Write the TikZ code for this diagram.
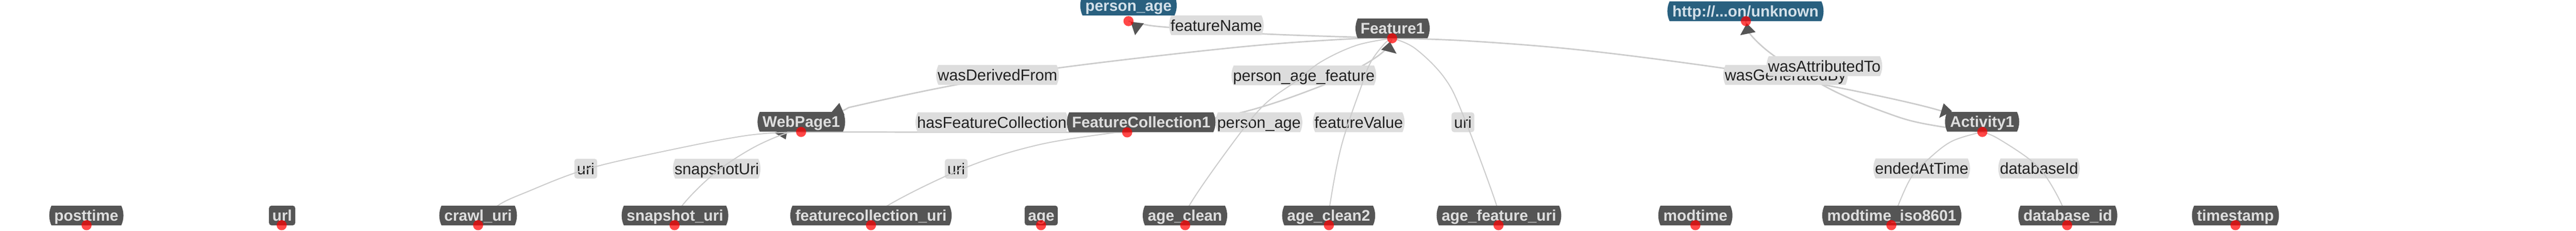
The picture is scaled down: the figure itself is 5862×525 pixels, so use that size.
\documentclass[tikz,border=0pt]{standalone}
\usepackage{fontspec}
\setmainfont{Liberation Sans}
\usetikzlibrary{shapes.misc}
\definecolor{clsfill}{HTML}{555555}
\definecolor{clstext}{HTML}{DEDEDE}
\definecolor{entfill}{HTML}{29607F}
\definecolor{enttext}{HTML}{D3E0E9}
\definecolor{lblfill}{HTML}{DDDDDD}
\definecolor{lbltext}{HTML}{222222}
\definecolor{edgecol}{HTML}{CCCCCC}
\definecolor{dotred}{HTML}{FF0000}
\pgfdeclarelayer{eobj}
\pgfdeclarelayer{elbl}
\pgfdeclarelayer{edat}
\pgfdeclarelayer{front}
\pgfsetlayers{eobj,elbl,edat,main,front}
\tikzset{
  clsnode/.style={rounded rectangle, rounded rectangle arc length=50, fill=clsfill, text=clstext,
    font=\fontsize{17.5}{20}\selectfont\bfseries, minimum height=22.5pt, inner xsep=5pt, inner ysep=0pt,
    outer sep=0pt, text height=12.5pt, text depth=0pt},
  narrowcls/.style={clsnode, shape=rectangle, rounded corners=3pt, inner xsep=3.75pt},
  entnode/.style={clsnode, fill=entfill, text=enttext},
  edgelbl/.style={rounded rectangle, rounded rectangle arc length=50, fill=lblfill, text=lbltext,
    font=\fontsize{18}{20}\selectfont, minimum height=22.5pt, inner xsep=1pt, inner ysep=0pt,
    outer sep=0pt, text height=13pt, text depth=0pt},
  narrowlbl/.style={edgelbl, shape=rectangle, rounded corners=3pt, inner xsep=3pt},
  rdot/.style={circle, fill=dotred, fill opacity=0.72, draw=none, inner sep=0pt, minimum size=11.5pt},
  objedge/.style={draw=edgecol, line width=1.6pt},
  datedge/.style={draw=edgecol, line width=1.2pt},
  arrowhd/.style={fill=clsfill}
}
\begin{document}
\begin{tikzpicture}[x=0.5pt,y=-0.5pt]
\useasboundingbox (0,0) rectangle (5862,525);
\clip (0,0) rectangle (5862,525);
% ---------- class / entity nodes ----------
\node[entnode] (pa) at (2568,12.5) {person\_age};
\node[entnode] (ht) at (3972,25.5) {http://...on/unknown};
\node[clsnode] (f1) at (3169,64.5) {Feature1};
\node[clsnode] (wp) at (1823.5,277) {WebPage1};
\node[clsnode] (fc) at (2597,278) {FeatureCollection1};
\node[clsnode] (ac) at (4510.5,277) {Activity1};
% ---------- column nodes ----------
\node[clsnode] (c1) at (196.5,490) {posttime};
\node[narrowcls] (c2) at (642,490) {url};
\node[clsnode] (c3) at (1088,490) {crawl\_uri};
\node[clsnode] (c4) at (1536,490) {snapshot\_uri};
\node[clsnode] (c5) at (1982,490) {featurecollection\_uri};
\node[narrowcls] (c6) at (2369.5,490) {age};
\node[clsnode] (c7) at (2696.5,490) {age\_clean};
\node[clsnode] (c8) at (3023.5,490) {age\_clean2};
\node[clsnode] (c9) at (3411,490) {age\_feature\_uri};
\node[clsnode] (c10) at (3858,490) {modtime};
\node[clsnode] (c11) at (4305,490) {modtime\_iso8601};
\node[clsnode] (c12) at (4705.5,490) {database\_id};
\node[clsnode] (c13) at (5087,490) {timestamp};
% ---------- red anchor dots ----------
\begin{pgfonlayer}{front}
\node[rdot] (pad) at (2568,48) {};
\node[rdot] (htd) at (3973,48) {};
\node[rdot] (f1d) at (3168,87) {};
\node[rdot] (wpd) at (1823,300) {};
\node[rdot] (fcd) at (2565,301) {};
\node[rdot] (acd) at (4511,300) {};
\node[rdot] (d1) at (197,512) {};
\node[rdot] (d2) at (641,512) {};
\node[rdot] (d3) at (1088,512) {};
\node[rdot] (d4) at (1535,512) {};
\node[rdot] (d5) at (1982,512) {};
\node[rdot] (d6) at (2369,512) {};
\node[rdot] (d7) at (2697,512) {};
\node[rdot] (d8) at (3024,512) {};
\node[rdot] (d9) at (3410,512) {};
\node[rdot] (d10) at (3858,512) {};
\node[rdot] (d11) at (4304,512) {};
\node[rdot] (d12) at (4704,512) {};
\node[rdot] (d13) at (5087,512) {};
\end{pgfonlayer}
% ---------- object property edges ----------
\begin{pgfonlayer}{eobj}
\draw[objedge] plot[smooth, tension=0.6] coordinates {(f1d.center) (2873,77) (2657,62) (2600,55) (pad.center)};
\draw[objedge] plot[smooth, tension=0.6] coordinates {(f1d.center) (3080,88) (2820,107) (2412,154) (2175,193) (1960,238) (1917,252) (wpd.center)};
\draw[objedge] (wpd.center) -- (fcd.center);
\draw[objedge] plot[smooth, tension=0.6] coordinates {(fcd.center) (2820,257) (3013,193) (3103,148) (3153,113) (f1d.center)};
\draw[objedge] plot[smooth, tension=0.6] coordinates {(f1d.center) (3340,93) (3600,114) (3921,155) (4157,194) (4417,252) (acd.center)};
\draw[objedge] plot[smooth, tension=0.6] coordinates {(acd.center) (4430,290) (4350,275) (4283,253) (4217,227) (4147,193) (4040,129) (3983,78) (htd.center)};
% arrow heads
\fill[arrowhd] (1910,234) -- (1888,260) -- (1922,262) -- cycle;
\fill[arrowhd] (1762,302) -- (1793,289) -- (1788,317) -- cycle;
\fill[arrowhd] (2573,50) -- (2603,53) -- (2583,80) -- cycle;
\fill[arrowhd] (3163,95) -- (3143,113) -- (3178,122) -- cycle;
\fill[arrowhd] (3975,53) -- (3960,80) -- (3995,73) -- cycle;
\fill[arrowhd] (4423,235) -- (4413,268) -- (4442,253) -- cycle;
\end{pgfonlayer}
% ---------- edge labels ----------
\begin{pgfonlayer}{elbl}
\node[edgelbl] (l1) at (2270,170.5) {wasDerivedFrom};
\node[edgelbl] (l2) at (2257,278) {hasFeatureCollection};
\node[narrowlbl] (l3) at (1333,383.5) {uri};
\node[edgelbl] (l4) at (1631,383.5) {snapshotUri};
\node[narrowlbl] (l5) at (2176,384) {uri};
\node[edgelbl] (l6) at (2768,57.5) {featureName};
\node[edgelbl] (l7) at (2967,171.5) {person\_age\_feature};
\node[edgelbl] (l8) at (2865,278) {person\_age};
\node[edgelbl] (l9) at (3092,278) {featureValue};
\node[narrowlbl] (l10) at (3329,278) {uri};
\node[edgelbl] (l11) at (4063,170.5) {wasGeneratedBy};
\node[edgelbl] (l12) at (4151.5,150.5) {wasAttributedTo};
\node[edgelbl] (l13) at (4373,383) {endedAtTime};
\node[edgelbl] (l14) at (4640,383) {databaseId};
\end{pgfonlayer}
% ---------- data property edges ----------
\begin{pgfonlayer}{edat}
\draw[datedge] plot[smooth, tension=0.6] coordinates {(wpd.center) (1700,308) (1506,345) (1334,385) (1200,436) (1132,468) (d3.center)};
\draw[datedge] plot[smooth, tension=0.6] coordinates {(wpd.center) (1789,303) (1710,338) (1625,395) (1552,468) (d4.center)};
\draw[datedge] plot[smooth, tension=0.6] coordinates {(fcd.center) (2533,302) (2360,330) (2195,382) (2019,468) (d5.center)};
\draw[datedge] plot[smooth, tension=0.6] coordinates {(f1d.center) (3087,103) (3007,140) (2950,184) (2874,241) (2798,335) (2706,468) (d7.center)};
\draw[datedge] plot[smooth, tension=0.6] coordinates {(f1d.center) (3150,100) (3120,140) (3100,190) (3053,330) (3026,468) (d8.center)};
\draw[datedge] plot[smooth, tension=0.6] coordinates {(f1d.center) (3220,110) (3287,177) (3330,263) (3406,468) (d9.center)};
\draw[datedge] plot[smooth, tension=0.6] coordinates {(acd.center) (4442,321) (4388,362) (4350,402) (4319,468) (d11.center)};
\draw[datedge] plot[smooth, tension=0.6] coordinates {(acd.center) (4545,314) (4618,362) (4656,402) (4693,468) (d12.center)};
\end{pgfonlayer}
\end{tikzpicture}
\end{document}
